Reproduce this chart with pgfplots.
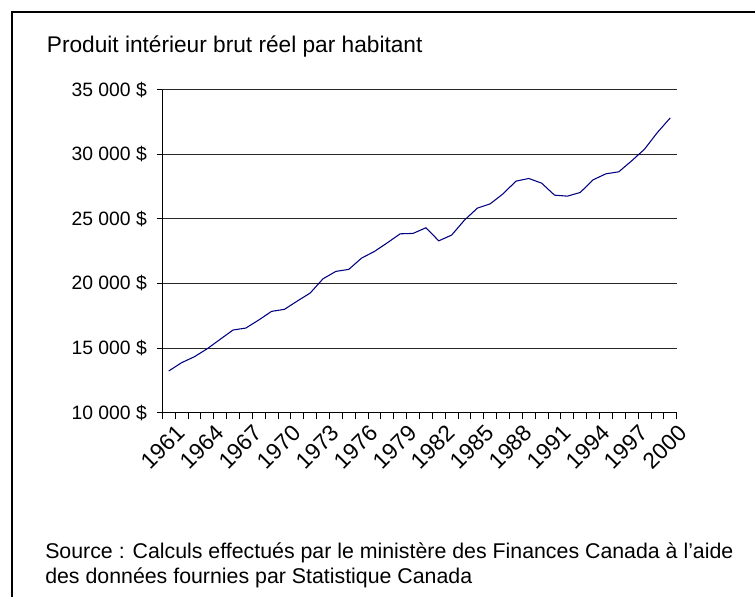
\documentclass[border=0pt]{standalone}
\usepackage{fontspec}
\setmainfont{Liberation Sans}
\usepackage{pgfplots}
\pgfplotsset{compat=1.18}

\pgfplotstableread{
annee pib
1961 13225
1962 13867
1963 14331
1964 14950
1965 15677
1966 16396
1967 16551
1968 17170
1969 17842
1970 17997
1971 18640
1972 19258
1973 20363
1974 20936
1975 21090
1976 21965
1977 22481
1978 23148
1979 23844
1980 23875
1981 24310
1982 23303
1983 23744
1984 24903
1985 25831
1986 26165
1987 26939
1988 27920
1989 28127
1990 27765
1991 26836
1992 26759
1993 27043
1994 28024
1995 28488
1996 28643
1997 29494
1998 30395
1999 31686
2000 32815
}\pib

\begin{document}
\begin{tikzpicture}
  % page = 755 x 597 px, 1 px = 0.75 pt
  \useasboundingbox (0,0) rectangle (566.25pt,-447.75pt);
  \draw[line width=1.4pt] (9pt,-447.75pt) -- (9pt,-9pt) -- (566.25pt,-9pt);

  \node[anchor=west, font=\fontsize{17}{20}\selectfont, inner sep=0pt]
    at (35pt,-35pt) {Produit intérieur brut réel par habitant};

  \begin{axis}[
    at={(121.7pt,-309.5pt)}, anchor=south west,
    scale only axis,
    width=385.8pt, height=242.25pt,
    xmin=1960.5, xmax=2000.5,
    ymin=10000, ymax=35000,
    scaled y ticks=false,
    axis x line*=bottom, axis y line*=left,
    axis line style={black, line width=0.8pt, -},
    tick align=outside,
    xtick={1961,1964,...,2000},
    minor xtick={1960.5,1961.5,...,2000.5},
    major x tick style={draw=none},
    minor x tick style={black, line width=0.6pt},
    minor tick length=5pt,
    major tick length=4pt,
    ytick={10000,15000,...,30000},
    yticklabels={10 000 \$,15 000 \$,20 000 \$,25 000 \$,30 000 \$},
    extra y ticks={35000},
    extra y tick labels={35 000 \$},
    extra y tick style={grid style={gray!35, line width=0.8pt}},
    ytick style={black, line width=0.6pt},
    ymajorgrids,
    major grid style={black!85, line width=0.7pt},
    xticklabel style={xshift=5pt, yshift=-2.5pt, rotate=45, anchor=north east,
      inner sep=1pt, font=\fontsize{17}{20}\selectfont},
    yticklabel style={font=\fontsize{14.5}{17}\selectfont, xshift=-4pt},
    xticklabels={1961,1964,1967,1970,1973,1976,1979,1982,1985,1988,1991,1994,1997,2000},
    clip=false,
  ]
    \addplot[color={rgb,255:red,0;green,0;blue,128}, line width=0.8pt, mark=none]
      table[x=annee, y=pib] {\pib};
  \end{axis}

  \node[anchor=north west, align=left, inner sep=0pt,
        font=\fontsize{16}{18.5}\selectfont]
    at (33.75pt,-407pt)
    {Source : Calculs effectués par le ministère des Finances Canada à l’aide\\
     des données fournies par Statistique Canada};
\end{tikzpicture}
\end{document}
